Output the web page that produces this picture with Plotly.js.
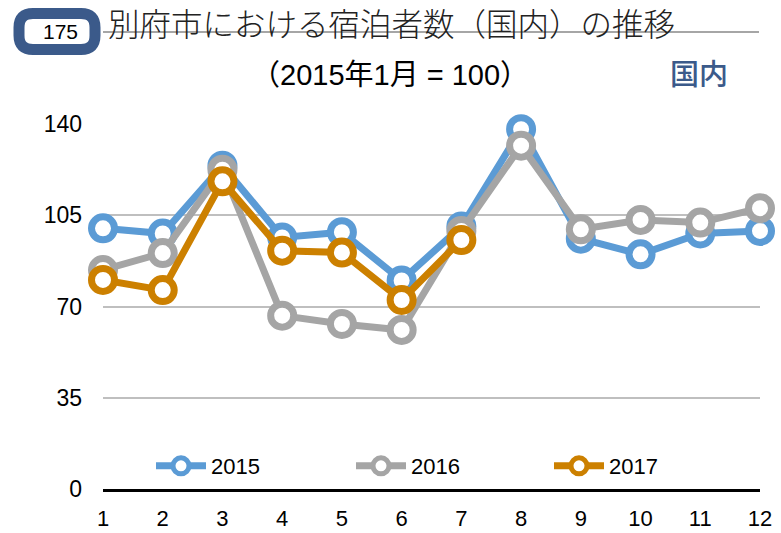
<!DOCTYPE html>
<html><head><meta charset="utf-8">
<script src="https://cdn.plot.ly/plotly-3.0.1.min.js"></script>
<style>body{margin:0;background:#fff}#c{width:781px;height:533px}</style>
</head><body><div id="c"></div>
<script>
const months = [1,2,3,4,5,6,7,8,9,10,11,12];
const v2015 = [100, 98, 124, 96.5, 98.5, 80, 100.7, 138, 96, 90, 98, 99];
const v2016 = [84, 90.5, 122.5, 66.5, 63.3, 61, 99, 131.7, 99.6, 103.2, 102.2, 107.7];
const v2017 = [80.2, 76.3, 118, 91.4, 90.7, 72.5, 95.5];
const months2017 = [1,2,3,4,5,6,7];
const yTicks = [0, 35, 70, 105, 140];
const seriesNames = ['2015','2016','2017'];
const colors = ['#5B9BD5','#A5A5A5','#CC8000'];

const L=103, R=21, T=124, B=44, W=781, H=533;
const PW = W-L-R, PH = H-T-B;
const px = p => (p-L)/PW;
const py = p => (H-B-p)/PH;
const sans = '"Liberation Sans", Arial, sans-serif';
const jp = '"Noto Sans CJK JP", sans-serif';

const legendKeys = ['legend','legend2','legend3'];
function tr(x, y, i){
  return {x:x, y:y, name:seriesNames[i], legend:legendKeys[i], type:'scatter', mode:'lines+markers', cliponaxis:false,
    line:{color:colors[i], width:7},
    marker:{symbol:'circle', size:23, color:'#ffffff', line:{color:colors[i], width:7}}};
}
const data = [
  tr(months, v2015, 0),
  tr(months, v2016, 1),
  tr(months2017, v2017, 2)
];

function rrect(x0,y0,x1,y1,r){
  const X=px, Y=py;
  return `M ${X(x0+r)} ${Y(y0)} L ${X(x1-r)} ${Y(y0)} Q ${X(x1)} ${Y(y0)} ${X(x1)} ${Y(y0+r)} L ${X(x1)} ${Y(y1-r)} Q ${X(x1)} ${Y(y1)} ${X(x1-r)} ${Y(y1)} L ${X(x0+r)} ${Y(y1)} Q ${X(x0)} ${Y(y1)} ${X(x0)} ${Y(y1-r)} L ${X(x0)} ${Y(y0+r)} Q ${X(x0)} ${Y(y0)} ${X(x0+r)} ${Y(y0)} Z`;
}
function leg(xp){
  return {orientation:'h', x:px(xp), xanchor:'left', y:py(466), yanchor:'middle', itemwidth:50,
    bgcolor:'rgba(0,0,0,0)', font:{family:sans, size:22, color:'#000'}};
}

const layout = {
  width:W, height:H, margin:{l:L, r:R, t:T, b:B},
  paper_bgcolor:'#fff', plot_bgcolor:'#fff', showlegend:true,
  xaxis:{range:[1,12], tickvals:months, ticktext:months.map(String), showgrid:false, zeroline:false,
    showline:true, linecolor:'#000', linewidth:3, ticks:'', ticklabelstandoff:8,
    tickfont:{family:sans, size:22, color:'#000'}},
  yaxis:{range:[0,140], tickvals:yTicks, ticktext:yTicks.map(String), showgrid:true, gridcolor:'#BFBFBF', gridwidth:2,
    zeroline:false, showline:false, ticks:'', ticklabelstandoff:20,
    tickfont:{family:sans, size:23, color:'#000'}},
  legend:leg(151), legend2:leg(351), legend3:leg(549),
  shapes:[
    {type:'line', xref:'paper', yref:'paper', x0:px(103), x1:px(759), y0:py(32), y1:py(32), line:{color:'#A6A6A6', width:2}, layer:'below'},
    {type:'path', xref:'paper', yref:'paper', path:rrect(19,13.5,95,49.5,14), fillcolor:'#ffffff', line:{color:'#3B5A8A', width:11}}
  ],
  annotations:[
    {xref:'paper', yref:'paper', x:px(60), y:py(32), text:'175', showarrow:false, xanchor:'center', yanchor:'middle',
      font:{family:sans, size:21, color:'#000'}},
    {xref:'paper', yref:'paper', x:px(106), y:py(22), text:'別府市における宿泊者数（国内）の推移', showarrow:false, xanchor:'left', yanchor:'middle',
      font:{family:jp, size:31.5, color:'#222', weight:300}},
    {xref:'paper', yref:'paper', x:px(390), y:py(75), text:'（2015年1月 = 100）', showarrow:false, xanchor:'center', yanchor:'middle',
      font:{family:sans + ',' + jp, size:29, color:'#000'}},
    {xref:'paper', yref:'paper', x:px(699), y:py(72), text:'国内', showarrow:false, xanchor:'center', yanchor:'middle',
      font:{family:jp, size:29, color:'#3B5A8A', weight:500}}
  ]
};
Plotly.newPlot('c', data, layout, {displayModeBar:false, staticPlot:true});
</script></body></html>
